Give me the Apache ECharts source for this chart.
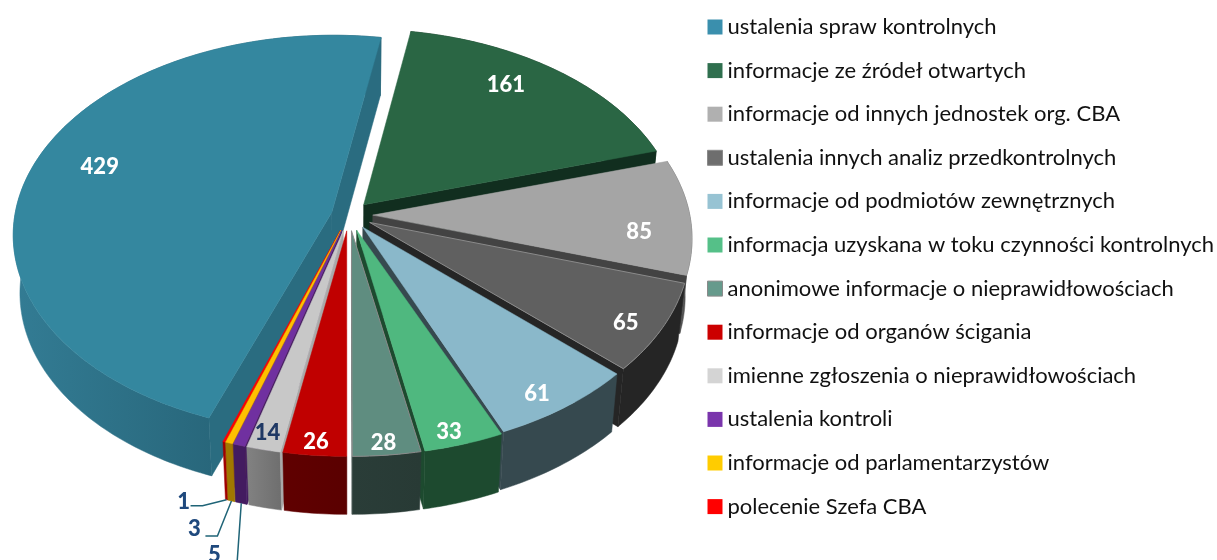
<!DOCTYPE html>
<html><head><meta charset="utf-8">
<style>html,body{margin:0;padding:0;background:#fff}#c{width:1217px;height:560px}</style>
<script src="https://cdn.jsdelivr.net/npm/echarts@6/dist/echarts.min.js"></script>
</head><body><div id="c"></div>
<script>
// ---- data ----
const categories = [
  'ustalenia spraw kontrolnych','informacje ze źródeł otwartych','informacje od innych jednostek org. CBA',
  'ustalenia innych analiz przedkontrolnych','informacje od podmiotów zewnętrznych','informacja uzyskana w toku czynności kontrolnych',
  'anonimowe informacje o nieprawidłowościach','informacje od organów ścigania','imienne zgłoszenia o nieprawidłowościach',
  'ustalenia kontroli','informacje od parlamentarzystów','polecenie Szefa CBA'];
const values = [429,161,85,65,61,33,28,26,14,5,3,1];
// ---- styles ----
const topColors   = ['#34879F','#2A6644','#A5A5A5','#606060','#8AB8CA','#4FB87F','#5F8D80','#C00000','#C8C8C8','#7030A0','#FFC000','#FF0000'];
const legendColors= ['#3A8FAD','#2F6F4E','#B0B0B0','#6E6E6E','#97C3D3','#55C088','#669A8C','#CC0000','#D4D4D4','#7A35AC','#FFCC00','#FF0000'];
const legendBorder= [null,null,null,'#8A8A8A',null,null,'#8A8A8A',null,null,null,null,null];
const radialColors= ['#2A6C80','#112E1F','#434343','#252525','#36494F','#1D4A2F','#3A4A46','#7A0000','#A9A9A9','#431B60','#A07800','#A00000'];
const wallFrom    = ['#337C94','#133020','#555555','#252525','#36494F','#1D4A2F','#2A3D38','#600000','#828282','#431B60','#A07800','#A00000'];
const wallTo      = ['#1F5566','#133020','#555555','#252525','#36494F','#1D4A2F','#283A35','#5A0000','#6E6E6E','#431B60','#A07800','#A00000'];
const topStroke   = [null,null,null,'#8A8A8A',null,null,'#8A8A8A',null,null,null,null,null];
const explode     = [.056,.07,.075,.075,.075,.08,.08,.08,.08,.08,.08,.08];
const rotate      = [-.45,-.2,0,0,-.1,-.9,-1.2,-1.2,-1.4,-1.4,-1.4,-1.4];
const labelAngle  = [288.1,36.2,95.2,122,146.8,164,174.6,185.2,193.2];
const labelRadius = [.794,.825,.836,.895,.907,.935,.943,.939,.926];
const labelColors = ['#fff','#fff','#fff','#fff','#fff','#fff','#fff','#fff','#1F3864'];
const leaderLabels = {9:{elbow:[-4,57],end:[-5,58],text:[-27,52]},10:{elbow:[-14,35],end:[-26,35],text:[-37,28]},11:{elbow:[-24,6],end:[-36,6],text:[-43,2]}};
const startAngle = 200.5;
const CX=349, CY=215, RX=317, RY=197, K=.11, DEPTH=58, BOTTOM_SCALE=.98;

const total = values.reduce((a,b)=>a+b,0);
const starts = []; { let a=startAngle; values.forEach((v,i)=>{starts.push(a+rotate[i]); a+=v/total*360;}); }
const rad = d=>d*Math.PI/180;
function proj(u,v,low){
  const d=1-K*v; let x=CX+RX*u/d, y=CY+RY*v/d;
  if(low){ x=CX+(x-CX)*BOTTOM_SCALE; y+=DEPTH; }
  return [x,y];
}
function polar(i,angle,r,low){
  const m=rad(starts[i]+values[i]/total*180), e=explode[i];
  return proj(e*Math.sin(m)+r*Math.sin(rad(angle)), -e*Math.cos(m)-r*Math.cos(rad(angle)), low);
}
function arc(i,low){
  const s=starts[i], sw=values[i]/total*360, n=Math.max(2,Math.ceil(sw)), p=[];
  for(let j=0;j<=n;j++) p.push(polar(i,s+sw*j/n,1,low));
  return p;
}
function renderSlice(i,val){
  const s=starts[i], sw=val/total*360, T=arc(i,false), B=arc(i,true);
  const at=polar(i,s,0,false), ab=polar(i,s,0,true), last=T[T.length-1];
  const children=[];
  const poly=(pts,fill,stroke,w)=>({type:'polygon',shape:{points:pts},style:{fill,stroke:stroke||fill,lineWidth:stroke?(w||1):.5},silent:true});
  children.push(poly(T.concat(B.slice().reverse()),new echarts.graphic.LinearGradient(0,0,1,0,[{offset:0,color:wallFrom[i]},{offset:1,color:wallTo[i]}])));
  if(T[0][0]<at[0]) children.push(poly([at,T[0],B[0],ab],radialColors[i]));
  if(last[0]>at[0]) children.push(poly([at,last,B[B.length-1],ab],radialColors[i]));
  children.push(poly([at].concat(T),topColors[i],topStroke[i]));
  const font='900 22px Lato';
  if(i<labelAngle.length){
    const p=polar(i,labelAngle[i],labelRadius[i],false);
    children.push({type:'text',z2:50,style:{x:p[0],y:p[1]+1.5,text:String(val),fill:labelColors[i],font,align:'center',verticalAlign:'middle'}});
  } else {
    const a=polar(i,s+sw/2,1,true), L=leaderLabels[i];
    children.push({type:'polyline',z2:50,shape:{points:[a,[a[0]+L.elbow[0],a[1]+L.elbow[1]],[a[0]+L.end[0],a[1]+L.end[1]]]},style:{fill:null,stroke:'#1F6477',lineWidth:1.5}});
    children.push({type:'text',z2:50,style:{x:a[0]+L.text[0],y:a[1]+L.text[1],text:String(val),fill:'#1F497D',font,align:'center',verticalAlign:'middle'}});
  }
  return {type:'group',children};
}
const depthKey=i=>-Math.cos(rad(starts[i]+values[i]/total*180));
const order=values.map((_,i)=>i).sort((a,b)=>depthKey(a)-depthKey(b));
const series=order.map((i,rank)=>({
  type:'custom',name:categories[i],coordinateSystem:'none',z:2+rank,silent:true,animation:false,
  itemStyle:{color:legendColors[i]},
  data:[[values[i]]],
  renderItem:(p,api)=>renderSlice(i,api.value(0))
}));
const chart=echarts.init(document.getElementById('c'),null,{renderer:'canvas'});
chart.setOption({
  animation:false,
  legend:{orient:'vertical',left:707,top:16,padding:0,itemWidth:15,itemHeight:15,itemGap:21.6,icon:'rect',selectedMode:false,
    textStyle:{color:'#111',fontFamily:'Lato',fontSize:22,padding:0},
    data:categories.map((name,i)=>legendBorder[i]?{name,itemStyle:{borderColor:legendBorder[i],borderWidth:1}}:{name})},
  series
});
</script></body></html>
